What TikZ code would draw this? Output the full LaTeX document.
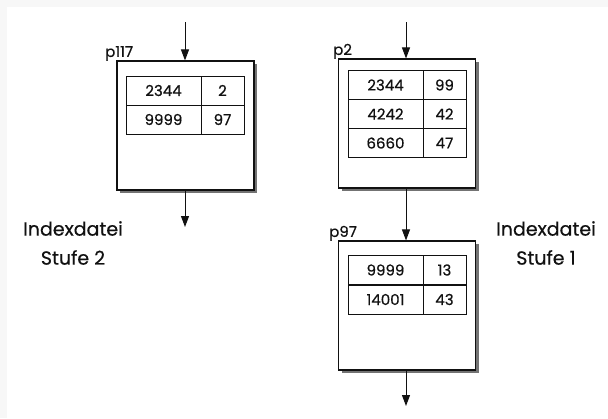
\documentclass[tikz,border=0pt]{standalone}
\usepackage{fontspec}
\setmainfont{Poppins}[FakeBold=0.5]
\usetikzlibrary{arrows.meta}
\definecolor{bgband}{HTML}{F7F7F7}
\definecolor{ink}{HTML}{111111}
\begin{document}
\begin{tikzpicture}[x=1pt,y=-1pt,
  page/.style={draw=ink,line width=1.1pt,fill=white,minimum width=137pt,minimum height=129pt,inner sep=0pt},
  shade/.style={fill=black!55,minimum width=137pt,minimum height=129pt,inner sep=0pt},
  cellA/.style={draw=ink,line width=0.8pt,minimum width=75pt,minimum height=29pt,inner sep=0pt,font=\fontsize{15}{17}\selectfont,text=ink},
  cellB/.style={draw=ink,line width=0.8pt,minimum width=43pt,minimum height=29pt,inner sep=0pt,font=\fontsize{15}{17}\selectfont,text=ink},
  plabel/.style={anchor=south west,inner sep=0pt,font=\fontsize{15}{17}\selectfont,text=ink},
  side/.style={align=center,font=\fontsize{19}{29}\selectfont,text=ink,inner sep=0pt},
  arr/.style={draw=ink,line width=1pt,-{Triangle[length=11pt,width=8pt]}}]
\fill[bgband] (0,0) rectangle (608,418);
\fill[white] (7,7) rectangle (608,418);
\useasboundingbox (0,0) rectangle (608,418);
% shadows
\node[shade] at (188,128.5) {};
\node[shade] at (410,126.5) {};
\node[shade] at (410,308.5) {};
% pages
\node[page] (p117) at (185.5,125.5) {};
\node[page] (p2) at (407,123.5) {};
\node[page] (p97) at (407,305.5) {};
% page labels
\node[plabel] (l117) at (105,61) {p117};
\node[plabel] (l2) at (333,59) {p2};
\node[plabel] (l97) at (329,241) {p97};
% table p117
\node[cellA] (a1) at (163.5,90.5) {2344};
\node[cellB] (b1) at (222.5,90.5) {2};
\node[cellA] (a2) at (163.5,119.5) {9999};
\node[cellB] (b2) at (222.5,119.5) {97};
% table p2
\node[cellA] (c1) at (385.5,85) {2344};
\node[cellB] (d1) at (444.5,85) {99};
\node[cellA] (c2) at (385.5,114) {4242};
\node[cellB] (d2) at (444.5,114) {42};
\node[cellA] (c3) at (385.5,143) {6660};
\node[cellB] (d3) at (444.5,143) {47};
% table p97
\node[cellA] (e1) at (385.5,270) {9999};
\node[cellB] (f1) at (444.5,270) {13};
\node[cellA] (e2) at (385.5,299.5) {14001};
\node[cellB] (f2) at (444.5,299.5) {43};
% side labels
\node[side] (s2) at (73,243) {Indexdatei\\Stufe 2};
\node[side] (s1) at (546,243) {Indexdatei\\Stufe 1};
% arrows
\coordinate (t117) at (185,22);
\coordinate (o117) at (185,227);
\coordinate (t2) at (406,22);
\coordinate (o97) at (406,406);
\draw[arr] (t117) -- (p117.north -| t117);
\draw[arr] (p117.south -| o117) -- (o117);
\draw[arr] (t2) -- (p2.north -| t2);
\draw[arr] (p2.south -| t2) -- (p97.north -| t2);
\draw[arr] (p97.south -| o97) -- (o97);
\end{tikzpicture}
\end{document}
